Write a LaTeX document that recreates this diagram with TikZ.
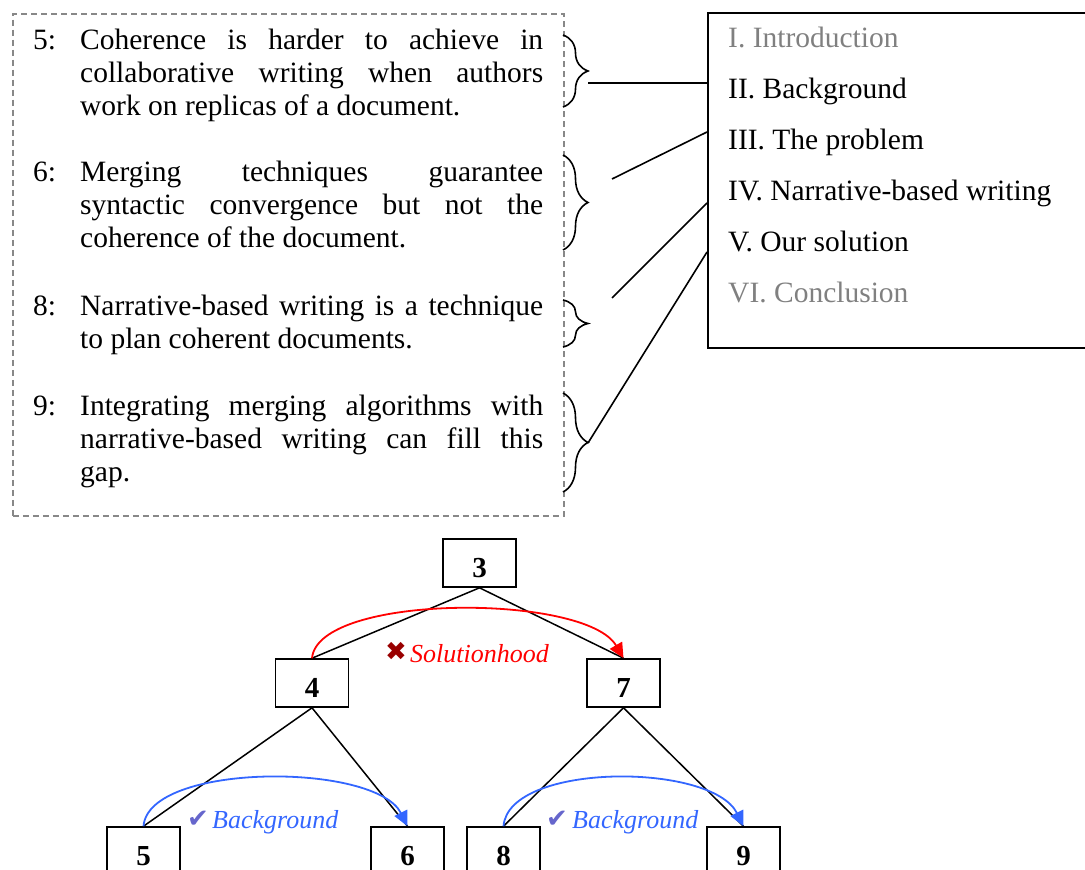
\documentclass[tikz,border=0pt]{standalone}
\usepackage{fontspec}
\setmainfont{Liberation Serif}
\newfontfamily\symfont{DejaVu Sans}
\usetikzlibrary{arrows.meta,decorations.pathreplacing}
\definecolor{dashgray}{RGB}{136,136,136}
\definecolor{tocgray}{RGB}{128,128,128}
\definecolor{xred}{RGB}{153,0,0}
\definecolor{bgblue}{RGB}{51,102,255}
\definecolor{chk}{RGB}{102,102,204}
\begin{document}
\begin{tikzpicture}[x=1pt,y=-1pt,
  body/.style={font=\fontsize{29.5}{33}\selectfont, inner sep=0pt, anchor=base west},
  tbox/.style={draw, line width=1.6pt, minimum width=73pt, minimum height=48pt, inner sep=0pt,
    font=\fontsize{29}{33}\selectfont\bfseries, text height=28pt, text depth=0pt},
  treeline/.style={line width=1.5pt},
  bracedec/.style={decorate, decoration={brace, amplitude=25pt}, line width=1.6pt},
  linkline/.style={line width=1.6pt},
  rel/.style={line width=1.8pt, -{Triangle[length=15pt,width=14pt]}},
  rlab/.style={font=\fontsize{26}{30}\selectfont\itshape, inner sep=0pt, anchor=base west},
  sym/.style={font=\symfont\fontsize{26}{26}\selectfont, inner sep=0pt},
]
\useasboundingbox (0,0) rectangle (1085,870);
\clip (0,0) rectangle (1085,870);

% dashed notes box
\node[draw=dashgray, line width=1.5pt, dash pattern=on 6pt off 4pt, anchor=north west,
  minimum width=551pt, minimum height=502pt, inner sep=0pt] (notes) at (12,13) {};

% numbers
\node[body] (n5l) at (33,49.5) {5:};
\node[body] (n6l) at (33,181.5) {6:};
\node[body] (n8l) at (33,315.5) {8:};
\node[body] (n9l) at (33,415.5) {9:};

% texts
\node[body] (t5) at (80,49.5) {\parbox[t]{463pt}{\frenchspacing\hyphenpenalty=10000\tolerance=10000
  Coherence is harder to achieve in\linebreak collaborative writing when authors\linebreak work on replicas of a document.}};
\node[body] (t6) at (80,181.5) {\parbox[t]{463pt}{\frenchspacing\hyphenpenalty=10000\tolerance=10000
  Merging techniques guarantee\linebreak syntactic convergence but not the\linebreak coherence of the document.}};
\node[body] (t8) at (80,315.5) {\parbox[t]{463pt}{\frenchspacing\hyphenpenalty=10000\tolerance=10000
  Narrative-based writing is a technique\linebreak to plan coherent documents.}};
\node[body] (t9) at (80,415.5) {\parbox[t]{463pt}{\frenchspacing\hyphenpenalty=10000\tolerance=10000
  Integrating merging algorithms with\linebreak narrative-based writing can fill this\linebreak gap.}};

% braces
\draw[bracedec] (563,35) -- (563,107);
\draw[bracedec] (563,155) -- (563,250);
\draw[bracedec] (563,300) -- (563,347);
\draw[bracedec] (563,393) -- (563,492);

% table of contents box
\node[draw, line width=1.6pt, anchor=north west, minimum width=400pt, minimum height=335pt, inner sep=0pt]
  (toc) at (707,12) {};
\node[body, text=tocgray] (s1) at (728,47) {I. Introduction};
\node[body] (s2) at (728,98) {II. Background};
\node[body] (s3) at (728,149) {III. The problem};
\node[body] (s4) at (728,200) {IV. Narrative-based writing};
\node[body] (s5) at (728,251) {V. Our solution};
\node[body, text=tocgray] (s6) at (728,302) {VI. Conclusion};

% link coordinates
\coordinate (b1) at (588,83);
\coordinate (b2) at (612,179);
\coordinate (b3) at (612,298);
\coordinate (b4) at (588,443);
\coordinate (k1) at (707,83);
\coordinate (k2) at (707,132);
\coordinate (k3) at (707,203);
\coordinate (k4) at (707,252);
\draw[linkline] (b1) -- (k1);
\draw[linkline] (b2) -- (k2);
\draw[linkline] (b3) -- (k3);
\draw[linkline] (b4) -- (k4);

% tree
\node[tbox] (n3) at (479.5,563) {3};
\node[tbox] (n4) at (312,683) {4};
\node[tbox] (n7) at (623.5,683) {7};
\node[tbox] (n5) at (143.5,851) {5};
\node[tbox] (n6) at (407.5,851) {6};
\node[tbox] (n8) at (503.5,851) {8};
\node[tbox] (n9) at (743.5,851) {9};

\draw[treeline] (n3.south) -- (n4.north);
\draw[treeline] (n3.south) -- (n7.north);
\draw[treeline] (n4.south) -- (n5.north);
\draw[treeline] (n4.south) -- (n6.north);
\draw[treeline] (n7.south) -- (n8.north);
\draw[treeline] (n7.south) -- (n9.north);

% relations
\draw[rel, red] (n4.north) .. controls +(6,-65) and +(-38,-65) .. (n7.north);
\draw[rel, bgblue] (n5.north) .. controls +(5,-64) and +(-32,-64) .. (n6.north);
\draw[rel, bgblue] (n8.north) .. controls +(5,-64) and +(-32,-64) .. (n9.north);

\node[sym, text=xred] (xm) at (396,651) {✖};
\node[rlab, text=red] (lsol) at (410,662) {Solutionhood};
\node[sym, text=chk] (c1) at (198,819) {✔};
\node[rlab, text=bgblue] (lbg1) at (212,828) {Background};
\node[sym, text=chk] (c2) at (557,819) {✔};
\node[rlab, text=bgblue] (lbg2) at (572,828) {Background};
\end{tikzpicture}
\end{document}
